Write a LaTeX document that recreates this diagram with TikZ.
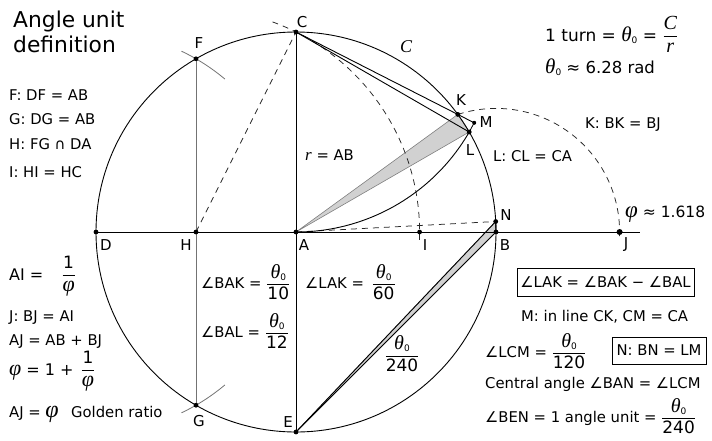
\documentclass[tikz,border=0pt]{standalone}
\usepackage{amsmath}
\usepackage{fontspec}
\setmainfont{DejaVu Sans}
\newfontfamily\mifont{Liberation Serif}
\usetikzlibrary{calc}
\newcommand\fs[1]{\fontsize{#1}{#1}\selectfont}
\newcommand\thz[1][20]{{\fs{#1}\mifont\itshape θ}\raisebox{-2pt}{\fs{9}0}}
\newcommand\phz[1][22]{{\fs{#1}\mifont\itshape φ}}
\newcommand\mvar[2][17]{{\fs{#1}\mifont\itshape #2}}
\newcommand\fr[2]{\ensuremath{\genfrac{}{}{0.8pt}{0}{\mbox{\fs{17}#1}}{\mbox{\fs{17}#2}}}}
\tikzset{
  ptdot/.style={circle,fill=black,inner sep=0pt,minimum size=4.8pt},
  ptbig/.style={circle,fill=black,inner sep=0pt,minimum size=6pt},
  lab/.style={inner sep=0pt,font=\fs{15}},
  txt/.style={inner sep=0pt,anchor=base west,font=\fs{14.8}},
  framed/.style={draw=black,line width=0.9pt,inner sep=0pt,font=\fs{14.8},anchor=center},
  main/.style={draw=black,line width=0.9pt},
  guide/.style={draw=black!55,line width=0.8pt},
  dashline/.style={draw=black!85,line width=0.75pt,dash pattern=on 6pt off 5pt},
  wedge/.style={fill=black!18,draw=black!50,line width=0.6pt}
}
\begin{document}
\begin{tikzpicture}[x=1pt,y=1pt]
\useasboundingbox (0,0) rectangle (712,-440);
% points
\coordinate (A) at (296,-232);
\coordinate (B) at (496,-232);
\coordinate (C) at (296,-32);
\coordinate (D) at (96,-232);
\coordinate (E) at (296,-432);
\coordinate (F) at (196,-58.8);
\coordinate (G) at (196,-405.2);
\coordinate (H) at (196,-232);
\coordinate (I) at (419.6,-232);
\coordinate (J) at (619.6,-232);
\coordinate (K) at (457.8,-114.4);
\coordinate (L) at (469.2,-132);
\coordinate (M) at (474.2,-122.8);
\coordinate (N) at (495.7,-221.5);
\coordinate (axisend) at (640,-232);
% grey wedges
\path[wedge] (A) -- (K) -- (L) -- cycle;
\path[wedge] (E) -- (N) -- (B) -- cycle;
% circle
\draw[main] (A) circle[radius=200pt];
% construction
\draw[guide] (F) -- (G);
\draw[guide] (D) ++(64.7:200pt) arc[start angle=64.7,end angle=49.9,radius=200pt];
\draw[guide] (D) ++(-64.7:200pt) arc[start angle=-64.7,end angle=-49.9,radius=200pt];
\draw[dashline] (H) -- (C);
\draw[dashline] (H) ++(70:223.6pt) arc[start angle=70,end angle=-2,radius=223.6pt];
\draw[dashline] (B) ++(108:123.6pt) arc[start angle=108,end angle=-2,radius=123.6pt];
\draw[dashline] (A) -- (N);
% main lines
\draw[main] (D) -- (axisend);
\draw[main] (C) -- (E);
\draw[main] (C) -- (M);
\draw[main] (C) -- (L);
\draw[main,line width=0.8pt] (L) -- (M);
\draw[main] (E) -- (B);
\draw[main] (E) -- (N);
\draw[main] (N) -- (B);
\draw[main] (C) ++(-90:200pt) arc[start angle=-90,end angle=-30,radius=200pt];
% dots
\foreach \p in {A,B,C,D,E,F,G,H,I,K,L,N}{\node[ptdot] (dot\p) at (\p) {};}
\node[ptdot,minimum size=4pt] (dotM) at (M) {};
\node[ptbig] (dotJ) at (J) {};
% point labels
\node[lab] (lA) at (304,-245) {A};
\node[lab] (lB) at (505,-245) {B};
\node[lab] (lC) at (302,-22) {C};
\node[lab] (lD) at (106,-245) {D};
\node[lab] (lE) at (288,-422) {E};
\node[lab] (lF) at (199,-43) {F};
\node[lab] (lG) at (199,-421) {G};
\node[lab] (lH) at (186,-245) {H};
\node[lab] (lI) at (425,-245) {I};
\node[lab] (lJ) at (626,-245) {J};
\node[lab] (lK) at (461,-100) {K};
\node[lab] (lL) at (470,-150) {L};
\node[lab] (lM) at (486,-122) {M};
\node[lab] (lN) at (506,-215) {N};
% texts
\node[txt,font=\fs{21.8}] (title1) at (13,-27) {Angle unit};
\node[txt,font=\fs{21.8}] (title2) at (13,-52) {definition};
\node[txt] (t1) at (9,-100) {F: DF = AB};
\node[txt] (t2) at (9,-124) {G: DG = AB};
\node[txt] (t3) at (9,-149) {H: FG ∩ DA};
\node[txt] (t4) at (9,-177) {I: HI = HC};
\node[txt,font=\fs{16}] (t5) at (9,-280) {AI =\hspace{18pt}\fr{1}{\phz}};
\node[txt] (t6) at (9,-321) {J: BJ = AI};
\node[txt] (t7) at (9,-345) {AJ = AB + BJ};
\node[txt,font=\fs{16}] (t8) at (9,-375) {\phz\ = 1 + \hspace{2pt}\fr{1}{\phz}};
\node[txt] (t9) at (9,-417) {AJ = \phz[24]\ \ \hspace{3pt}Golden ratio};
\node[lab] (cc) at (406,-47) {\mvar[18]{C}};
\node[txt] (rab) at (305,-160) {\mvar[17]{r} = AB};
\node[txt] (kbk) at (585,-128) {K: BK = BJ};
\node[txt] (lcl) at (493,-161) {L: CL = CA};
\node[txt,font=\fs{15.5}] (phi) at (625,-217) {\phz[23] ≈ 1.618};
\node[txt,font=\fs{17}] (turn) at (545,-41) {1 turn = \thz[21] = \fr{\mvar[20]{C}}{\mvar[20]{r}}};
\node[txt,font=\fs{16.5}] (rad) at (545,-73) {\thz[21] ≈ 6.28 rad};
\node[txt] (bak) at (201,-288) {∠BAK = \fr{\thz}{10}};
\node[txt] (bal) at (201,-337) {∠BAL = \fr{\thz}{12}};
\node[txt] (lak) at (305,-288) {∠LAK = \hspace{3pt}\fr{\thz}{60}};
\node[lab,anchor=base] (f240) at (402,-359.5) {\fr{\thz}{240}};
\node[framed,minimum width=177pt,minimum height=28pt] (box1) at (605.5,-282) {∠LAK = ∠BAK − ∠BAL};
\node[txt] (mline) at (521,-321) {M: in line CK, CM = CA};
\node[txt] (lcm) at (485,-357) {∠LCM = \fr{\thz}{120}};
\node[framed,minimum width=94pt,minimum height=27pt] (box2) at (659,-350.5) {N: BN = LM};
\node[txt] (cen) at (485,-388) {Central angle ∠BAN = ∠LCM};
\node[txt] (ben) at (485,-422) {∠BEN = 1 angle unit = \fr{\thz}{240}};
\end{tikzpicture}
\end{document}
